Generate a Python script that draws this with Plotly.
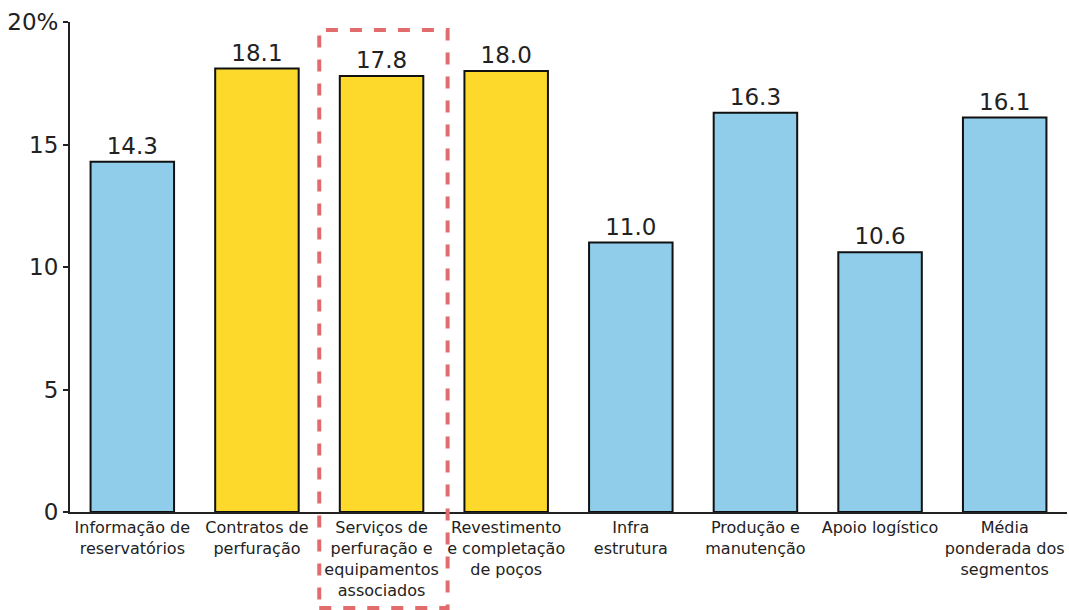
import plotly.graph_objects as go

categories = ["Informação de<br>reservatórios", "Contratos de<br>perfuração",
              "Serviços de<br>perfuração e<br>equipamentos<br>associados",
              "Revestimento<br>e completação<br>de poços", "Infra<br>estrutura",
              "Produção e<br>manutenção", "Apoio logístico",
              "Média<br>ponderada dos<br>segmentos"]
values = [14.3, 18.1, 17.8, 18.0, 11.0, 16.3, 10.6, 16.1]
highlight = [False, True, True, True, False, False, False, False]
tick_vals = [0, 5, 10, 15, 20]
tick_text = ["0", "5", "10", "15", "20%"]

BLUE = "#8FCDEA"
YELLOW = "#FDD92B"
colors = [YELLOW if h else BLUE for h in highlight]
x_idx = list(range(len(categories)))

fig = go.Figure(go.Bar(
    x=x_idx, y=values, marker=dict(color=colors, line=dict(color="#111", width=2)),
    text=[f"{v:.1f}" for v in values], textposition="outside",
    textfont=dict(size=23, color="#222", family="DejaVu Sans"), cliponaxis=False,
    width=0.67,
))

xmin, xmax = -0.5, len(categories) - 0.5
ymin, ymax = 0, 20
sel = 2
fig.add_shape(type="rect", xref="paper", yref="paper",
              x0=(sel - 0.5 - xmin) / (xmax - xmin), x1=(sel + 0.53 - xmin) / (xmax - xmin),
              y0=-3.92 / ymax, y1=19.67 / ymax,
              line=dict(color="#E26B6B", width=4, dash="dash"))

fig.update_layout(
    width=1069, height=610, margin=dict(l=70, r=2, t=22, b=98),
    plot_bgcolor="white", paper_bgcolor="white", showlegend=False,
    font=dict(family="DejaVu Sans", color="#222"),
    xaxis=dict(range=[xmin, xmax], tickvals=x_idx, ticktext=categories,
               showline=True, linecolor="#222", linewidth=2, ticks="",
               tickfont=dict(size=16, color="#222"), showgrid=False, zeroline=False,
               tickangle=0),
    yaxis=dict(range=[ymin, ymax], tickvals=tick_vals, ticktext=tick_text,
               showline=True, linecolor="#222", linewidth=2, ticks="outside",
               ticklen=5, tickwidth=2, tickcolor="#222",
               tickfont=dict(size=23, color="#222"), showgrid=False, zeroline=False),
)
fig.write_html("out.html")
